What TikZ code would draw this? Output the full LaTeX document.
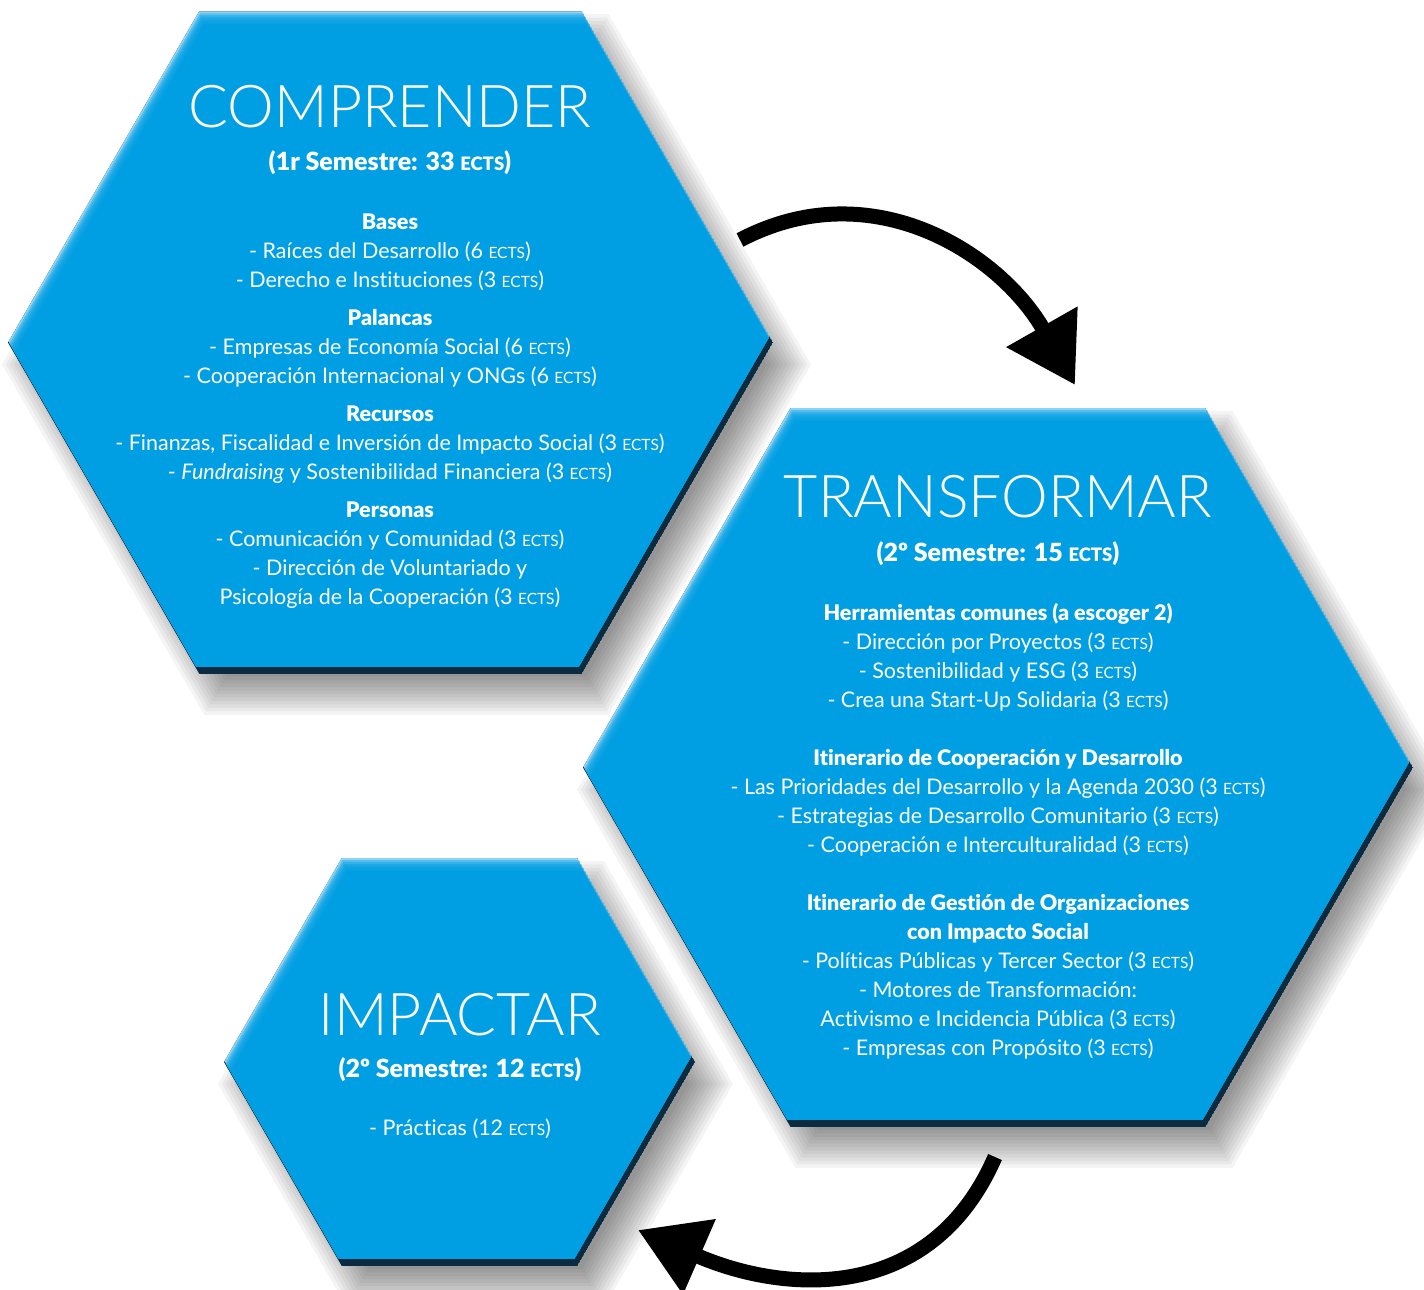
\documentclass[tikz,border=0pt]{standalone}
\usepackage{fontspec}
\setmainfont{Lato}[Ligatures=NoCommon]
\newfontfamily\titlefont{Lato Light}[Ligatures=NoCommon]
\newfontfamily\heavyfont{Lato Black}[Ligatures=NoCommon]
\usetikzlibrary{arrows.meta}

\definecolor{hexblue}{HTML}{009FE3}
\definecolor{hexlight}{HTML}{8ED3F3}
\definecolor{hexdark}{HTML}{0A2B40}

% small caps ECTS
\newcommand{\ects}[1][15.5]{{\fontsize{#1}{#1}\selectfont ECTS}}
\newcommand{\hd}[1]{{\heavyfont #1}}

% flat-topped hexagon: centre x, centre y, side
\newcommand{\hexpath}[3]{({(#1)+(#3)},{#2}) -- ({(#1)+0.5*(#3)},{(#2)+0.866*(#3)}) -- ({(#1)-0.5*(#3)},{(#2)+0.866*(#3)}) -- ({(#1)-(#3)},{#2}) -- ({(#1)-0.5*(#3)},{(#2)-0.866*(#3)}) -- ({(#1)+0.5*(#3)},{(#2)-0.866*(#3)}) -- cycle}

% hexagon with soft shadow and bevelled rim
\newcommand{\bevelhex}[3]{%
  \foreach \k in {0,...,11}
    \fill[black,opacity=0.045] \hexpath{#1+16}{#2+22}{#3+22-4*\k};
  \begin{scope}
    \clip \hexpath{#1}{#2}{#3};
    \fill[hexdark] \hexpath{#1}{#2}{#3};
    \fill[hexlight] \hexpath{#1-3}{#2-7}{#3};
    \begin{scope}
      \clip \hexpath{#1-3}{#2-7}{#3};
      \foreach \k in {1,...,6}
        \fill[hexblue,opacity=0.4] \hexpath{#1+0.8*\k}{#2+2*\k}{#3};
      \fill[hexblue] \hexpath{#1+5}{#2+13}{#3};
    \end{scope}
  \end{scope}}

\begin{document}
\begin{tikzpicture}[x=1pt,y=-1pt,
  hextitle/.style={text=white,inner sep=0pt,font=\titlefont\fontsize{59}{59}\selectfont},
  hexsub/.style={text=white,inner sep=0pt,font=\heavyfont\fontsize{25}{29}\selectfont},
  hexbody/.style={text=white,inner sep=0pt,anchor=north,align=center,font=\fontsize{21.5}{29}\selectfont},
  bigarrow/.style={line width=15pt,-{Triangle[length=67pt,width=78pt]}}]
  \useasboundingbox (0,0) rectangle (1424,1290);

  % Hexagons
  \bevelhex{390.5}{342.5}{382.5}
  \bevelhex{998}{767.5}{415}
  \bevelhex{459.5}{1062}{235.5}

  % Comprender
  \node[hextitle] (t1) at (390,107) {COMPRENDER};
  \node[hexsub] (s1) at (390,163) {(1r Semestre: 33 \ects[18.5])};
  \node[hexbody] (b1) at (390,214) {\hd{Bases}\\
    - Raíces del Desarrollo (6 \ects)\\
    - Derecho e Instituciones (3 \ects)\\[9pt]
    \hd{Palancas}\\
    - Empresas de Economía Social (6 \ects)\\
    - Cooperación Internacional y ONGs (6 \ects)\\[9pt]
    \hd{Recursos}\\
    - Finanzas, Fiscalidad e Inversión de Impacto Social (3 \ects)\\
    - \textit{Fundraising} y Sostenibilidad Financiera (3 \ects)\\[9pt]
    \hd{Personas}\\
    - Comunicación y Comunidad (3 \ects)\\
    - Dirección de Voluntariado y\\
    Psicología de la Cooperación (3 \ects)};

  % Transformar
  \node[hextitle] (t2) at (998,497) {TRANSFORMAR};
  \node[hexsub] (s2) at (998,554) {(2º Semestre: 15 \ects[18.5])};
  \node[hexbody] (b2) at (998,603) {\hd{Herramientas comunes (a escoger 2)}\\
    - Dirección por Proyectos (3 \ects)\\
    - Sostenibilidad y ESG (3 \ects)\\
    - Crea una Start-Up Solidaria (3 \ects)\\[29pt]
    \hd{Itinerario de Cooperación y Desarrollo}\\
    - Las Prioridades del Desarrollo y la Agenda 2030 (3 \ects)\\
    - Estrategias de Desarrollo Comunitario (3 \ects)\\
    - Cooperación e Interculturalidad (3 \ects)\\[29pt]
    \hd{Itinerario de Gestión de Organizaciones}\\
    \hd{con Impacto Social}\\
    - Políticas Públicas y Tercer Sector (3 \ects)\\
    - Motores de Transformación:\\
    Activismo e Incidencia Pública (3 \ects)\\
    - Empresas con Propósito (3 \ects)};

  % Impactar
  \node[hextitle] (t3) at (460,1015) {IMPACTAR};
  \node[hexsub] (s3) at (460,1070) {(2º Semestre: 12 \ects[18.5])};
  \node[hexbody] (b3) at (460,1119) {- Prácticas (12 \ects)};

  % Arrows
  \coordinate (a1s) at (740,240);
  \coordinate (a1e) at (1075,385);
  \coordinate (a2s) at (995,1157);
  \coordinate (a2e) at (638,1230);
  \draw[bigarrow] (a1s) .. controls +(133,-70) and +(-74,-130) .. (a1e);
  \draw[bigarrow] (a2s) .. controls +(-64,147) and +(147,64) .. (a2e);
\end{tikzpicture}
\end{document}
